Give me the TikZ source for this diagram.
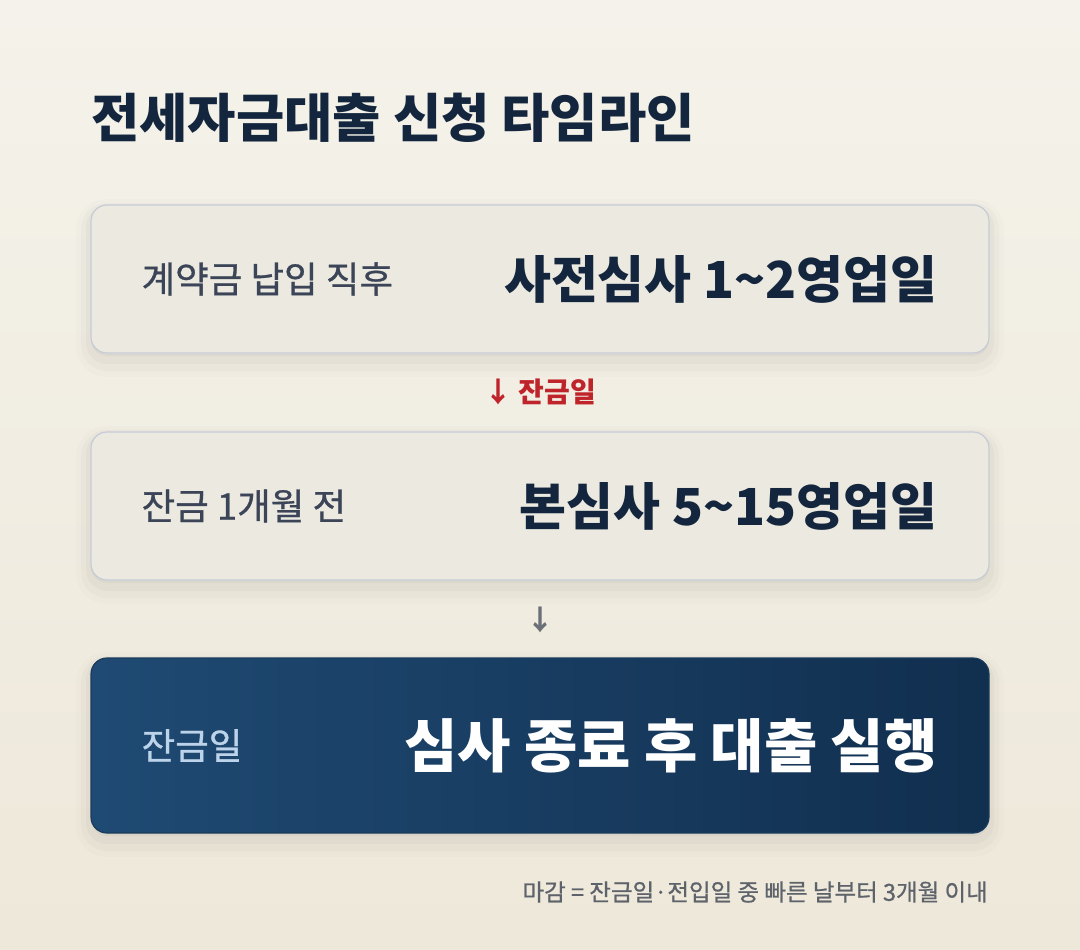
\documentclass[tikz,border=0pt]{standalone}
\usepackage{fontspec}
\setmainfont{Noto Sans CJK KR}
\newfontfamily\mediumfont{Noto Sans CJK KR}[FakeBold=0.8]
\usetikzlibrary{positioning, shadows}

\definecolor{bgtop}{HTML}{F4F2EA}
\definecolor{bgbot}{HTML}{EEE8DA}
\definecolor{boxfill}{HTML}{EBE9E0}
\definecolor{boxline}{HTML}{C6CCD7}
\definecolor{ink}{HTML}{14263D}
\definecolor{labelgray}{HTML}{3B4557}
\definecolor{navyleft}{HTML}{1F4A73}
\definecolor{navyright}{HTML}{112F4F}
\definecolor{paleblue}{HTML}{BCD3EA}
\definecolor{alertred}{HTML}{C0242B}
\definecolor{notegray}{HTML}{5E636B}
\definecolor{arrowgray}{HTML}{6B7078}

\newcommand{\fsize}[1]{\fontsize{#1}{#1}\selectfont}

\tikzset{
  x=1pt, y=-1pt,
  every node/.style={inner sep=0pt},
  soft shadow/.style={
    preaction={draw=black, line width=30pt, draw opacity=0.012, transform canvas={yshift=-9pt}},
    preaction={draw=black, line width=20pt, draw opacity=0.018, transform canvas={yshift=-8pt}},
    preaction={draw=black, line width=10pt, draw opacity=0.025, transform canvas={yshift=-6pt}},
    preaction={fill=black, fill opacity=0.03, transform canvas={yshift=-3pt}}},
  stage/.style={draw=boxline, line width=1.2pt, fill=boxfill, rounded corners=16pt,
    minimum width=898pt, minimum height=148pt, soft shadow},
  finalstage/.style={stage, draw=navyleft!80!black, left color=navyleft, right color=navyright,
    minimum height=175pt},
  when/.style={anchor=west, text=labelgray, font=\mediumfont\fsize{36.5}},
  what/.style={anchor=east, text=ink, font=\bfseries\fsize{51}},
  step arrow/.style={text=arrowgray, font=\bfseries\fsize{28}},
}

\begin{document}
\begin{tikzpicture}
  % background
  \path[top color=bgtop, bottom color=bgbot] (0,0) rectangle (1080,950);
  \useasboundingbox (0,0) rectangle (1080,950);

  % title
  \node[anchor=west, text=ink, font=\bfseries\fsize{52.5}] (title) at (91,118) {전세자금대출 신청 타임라인};

  % stages
  \node[stage] (pre) at (540,279) {};
  \node[when] (preWhen) at ([xshift=51pt]pre.west) {계약금 납입 직후};
  \node[what] (preWhat) at ([xshift=-52pt]pre.east) {사전심사 1\textasciitilde 2영업일};

  \node[stage] (main) at (540,506) {};
  \node[when] (mainWhen) at ([xshift=51pt]main.west) {잔금 1개월 전};
  \node[what] (mainWhat) at ([xshift=-52pt]main.east) {본심사 5\textasciitilde 15영업일};

  \node[finalstage] (loan) at (540,745.5) {};
  \node[when, text=paleblue] (loanWhen) at ([xshift=51pt]loan.west) {잔금일};
  \node[what, text=white, font=\bfseries\fsize{58}] (loanWhat) at ([xshift=-52pt]loan.east) {심사 종료 후 대출 실행};

  % step markers
  \node[step arrow, text=alertred] (balance) at (540,392) {↓ 잔금일};
  \node[step arrow] (toLoan) at (540,620) {↓};

  % footnote
  \node[anchor=east, text=notegray, font=\mediumfont\fsize{23.5}] (note) at (988,892) {마감 = 잔금일·전입일 중 빠른 날부터 3개월 이내};
\end{tikzpicture}
\end{document}
